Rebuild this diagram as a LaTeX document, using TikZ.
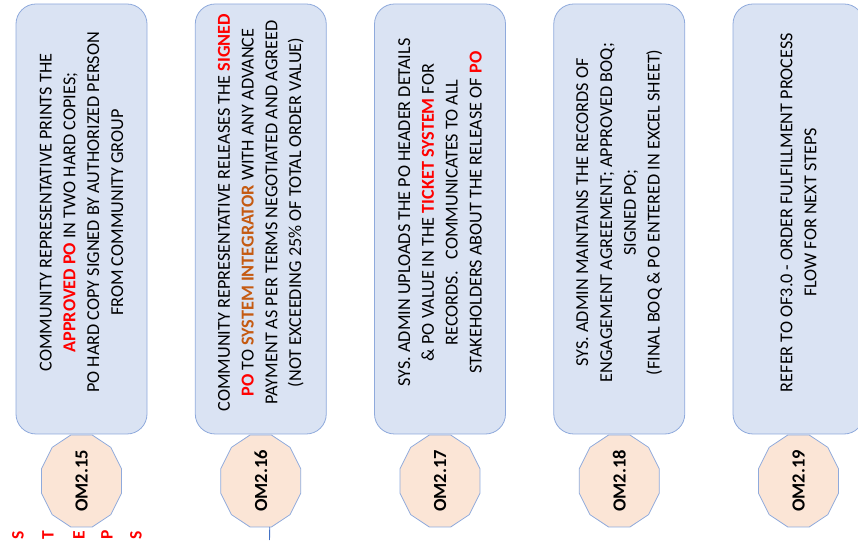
\documentclass[tikz,border=0pt]{standalone}
\usepackage{fontspec}
\setmainfont{Carlito}
\usepackage{xcolor}
\usetikzlibrary{positioning, calc}
\definecolor{boxblue}{HTML}{DAE3F3}
\definecolor{boxline}{HTML}{8FAADC}
\definecolor{stepfill}{HTML}{FBE5D6}
\definecolor{linkblue}{HTML}{4472C4}
\definecolor{siorange}{HTML}{C55A11}
\definecolor{hired}{HTML}{FF0000}
\newcommand{\hlred}[1]{\textbf{\textcolor{hired}{#1}}}
\newcommand{\hlorange}[1]{\textbf{\textcolor{siorange}{#1}}}

\begin{document}
\begin{tikzpicture}[x=1pt, y=1pt,
    omtask/.style={draw=boxline, fill=boxblue, line width=0.8pt, rounded corners=20pt,
        minimum width=131pt, minimum height=430pt},
    omtext/.style={rotate=90, align=center, inner sep=0pt,
        font=\fontsize{18.2}{23.8}\selectfont},
    ompoly/.style={draw=boxline, fill=stepfill, line width=0.8pt},
    omnum/.style={rotate=90, inner sep=0pt, font=\bfseries\fontsize{18.5}{20}\selectfont},
    stepsletter/.style={rotate=90, inner sep=0pt, text=hired,
        font=\bfseries\fontsize{17.5}{18}\selectfont},
    steplink/.style={draw=linkblue, line width=0.9pt}]
    \useasboundingbox (0,0) rectangle (858,540);

    % task boxes
    \node[omtask] (t15) at (81.5,321) {};
    \node[omtext] (t15text) at ($(t15)+(0,6.5)$) {COMMUNITY REPRESENTATIVE PRINTS THE\\
        \hlred{APPROVED PO} IN TWO HARD COPIES;\\
        PO HARD COPY SIGNED BY AUTHORIZED PERSON\\
        FROM COMMUNITY GROUP};

    \node[omtask] (t16) at (260.75,321) {};
    \node[omtext] (t16text) at ($(t16)+(0,6.5)$) {COMMUNITY REPRESENTATIVE RELEASES THE \hlred{SIGNED}\\
        \hlred{PO} TO \hlorange{SYSTEM INTEGRATOR} WITH ANY ADVANCE\\
        PAYMENT AS PER TERMS NEGOTIATED AND AGREED\\
        (NOT EXCEEDING 25\% OF TOTAL ORDER VALUE)};

    \node[omtask] (t17) at (440,321) {};
    \node[omtext] (t17text) at ($(t17)+(0,6.5)$) {SYS. ADMIN UPLOADS THE PO HEADER DETAILS\\
        \& PO VALUE IN THE \hlred{TICKET SYSTEM} FOR\\
        RECORDS.\hspace{12pt}COMMUNICATES TO ALL\\
        STAKEHOLDERS ABOUT THE RELEASE OF \hlred{PO}};

    \node[omtask] (t18) at (619.25,321) {};
    \node[omtext] (t18text) at ($(t18)+(0,6.5)$) {SYS. ADMIN MAINTAINS THE RECORDS OF\\
        ENGAGEMENT AGREEMENT; APPROVED BOQ;\\
        SIGNED PO;\hspace*{33pt}\\
        (FINAL BOQ \& PO ENTERED IN EXCEL SHEET)};

    \node[omtask] (t19) at (798.5,321) {};
    \node[omtext] (t19text) at ($(t19)+(0,6.5)$) {REFER TO OF3.0 - ORDER FULFILLMENT PROCESS\\
        FLOW FOR NEXT STEPS};

    % step numbers
    \foreach \n [count=\i from 0] in {15,...,19}{
        \coordinate (c\n) at (81.5+179.25*\i,59);
        \draw[ompoly] ($(c\n)+(15:41.4 and 47.6)$)
            \foreach \a in {45,75,...,345}{ -- ($(c\n)+(\a:41.4 and 47.6)$) } -- cycle;
        \node[omnum] (s\n) at (c\n) {OM2.\n};
    }

    \coordinate (s16end) at (269.5,0);
    \draw[steplink] ($(c16)+(9,-46)$) -- (s16end);

    % vertical caption
    \foreach \ch/\x in {S/18,T/48,E/79,P/107,S/136}
        \node[stepsletter] (steps\x) at (\x,5) {\ch};
\end{tikzpicture}
\end{document}
